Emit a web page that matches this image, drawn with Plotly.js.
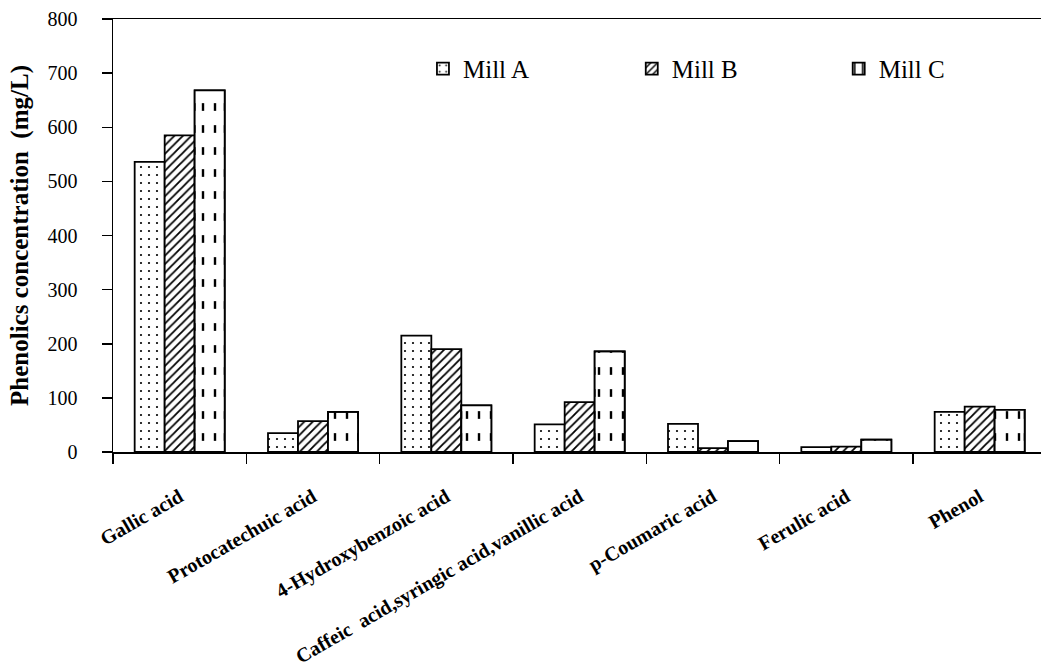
<!DOCTYPE html>
<html>
<head>
<meta charset="utf-8">
<script src="https://cdn.plot.ly/plotly-3.0.1.min.js"></script>
<style>html,body{margin:0;padding:0;background:#fff;}#chart{width:1041px;height:669px;}</style>
</head>
<body>
<div id="chart"></div>
<script>
const categories = ["Gallic acid", "Protocatechuic acid", "4-Hydroxybenzoic acid",
  "Caffeic  acid,syringic acid,vanillic acid", "p-Coumaric acid", "Ferulic acid", "Phenol"];
const millA = [536, 35, 215, 51, 52, 9, 74];
const millB = [585, 57, 190, 92, 7, 10, 84];
const millC = [668, 74, 86, 186, 20, 23, 78];
const seriesNames = ["Mill A", "Mill B", "Mill C"];
const yTicks = [0, 100, 200, 300, 400, 500, 600, 700, 800];

const W = 0.225;
const line = {color: "#000", width: 1.8};
const serif = "Liberation Serif";

const traceA = {
  type: "bar", name: seriesNames[0], x: categories, y: millA, legend: "legend",
  offset: -0.3375, width: W,
  marker: {color: "#fff", line: line,
    pattern: {shape: ".", fgcolor: "#000", bgcolor: "#fff", size: 8, solidity: 0.06}}
};
const traceB = {
  type: "bar", name: seriesNames[1], x: categories, y: millB, legend: "legend2",
  offset: -0.1125, width: W,
  marker: {color: "#fff", line: line,
    pattern: {shape: "/", fgcolor: "#000", bgcolor: "#fff", size: 6, solidity: 0.3}}
};
const traceC = {
  type: "bar", name: seriesNames[2], x: categories, y: millC, legend: "legend3",
  offset: 0.1125, width: W,
  marker: {color: "#fff", line: line,
    pattern: {shape: "|", fgcolor: "#000", bgcolor: "#fff", size: 12, solidity: 0.2}}
};
const traceCdash = {
  type: "bar", name: seriesNames[2], x: categories, y: millC,
  offset: 0.1125, width: W, showlegend: false, hoverinfo: "skip",
  marker: {color: "rgba(0,0,0,0)", line: line,
    pattern: {shape: "-", fgcolor: "#fff", bgcolor: "rgba(0,0,0,0)", size: 22, solidity: 0.65}}
};

function legendAt(x) {
  return {
    x: x, y: 0.885, xanchor: "left", yanchor: "middle",
    font: {family: serif, size: 25, color: "#000"},
    bgcolor: "rgba(0,0,0,0)"
  };
}

const layout = {
  width: 1041, height: 669,
  margin: {l: 113, r: 0, t: 19, b: 217},
  paper_bgcolor: "#fff", plot_bgcolor: "#fff",
  barmode: "overlay",
  font: {family: serif, color: "#000"},
  showlegend: true,
  legend: legendAt(0.334),
  legend2: legendAt(0.559),
  legend3: legendAt(0.782),
  xaxis: {
    type: "category", range: [-0.5, 6.46],
    showline: true, linecolor: "#000", linewidth: 1.5, mirror: true,
    ticks: "outside", ticklen: 10, tickwidth: 1.5, tickcolor: "#000",
    tickson: "boundaries", tickangle: -30, ticklabelstandoff: 24,
    tickfont: {family: serif, size: 20, color: "#000", weight: "bold"},
    showgrid: false, zeroline: false, automargin: false
  },
  yaxis: {
    range: [0, 800], tickvals: yTicks, ticktext: yTicks.map(String),
    showline: true, linecolor: "#000", linewidth: 1.5,
    ticks: "outside", ticklen: 10, tickwidth: 1.5, tickcolor: "#000",
    ticklabelstandoff: 20,
    tickfont: {family: serif, size: 20, color: "#000"},
    showgrid: false, zeroline: false, automargin: false,
    title: {text: "Phenolics concentration  (mg/L)", standoff: 12,
      font: {family: serif, size: 25, color: "#000", weight: "bold"}}
  }
};

Plotly.newPlot("chart", [traceA, traceB, traceC, traceCdash], layout, {staticPlot: true});
</script>
</body>
</html>
